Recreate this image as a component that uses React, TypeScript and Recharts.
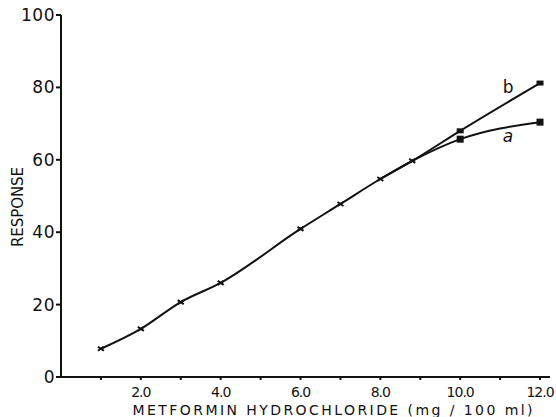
import { CartesianGrid, Line, LineChart, ReferenceDot, XAxis, YAxis } from 'recharts'

const doses = [1, 2, 3, 4, 6, 7, 8, 8.8, 10, 12]
const responseA = [7.8, 13.3, 20.7, 26.0, 40.9, 47.8, 54.7, 59.7, 65.7, 70.4]
const responseB = [null, null, null, null, null, null, 54.7, 59.7, 68.0, 81.2]
const xTicks = [1, 2, 3, 4, 5, 6, 7, 8, 9, 10, 11, 12]
const yTicks = [0, 20, 40, 60, 80, 100]

const data = doses.map((x, i) => ({ x, a: responseA[i], b: responseB[i] }))

const INK = '#111'
const FONT = '"DejaVu Sans", sans-serif'

function DotA(props: any) {
  const { cx, cy, payload } = props
  if (cx == null || cy == null) return null
  if (payload.x >= 10) {
    return <rect x={cx - 3.5} y={cy - 3.5} width={7} height={7} fill={INK} />
  }
  return (
    <g stroke={INK} strokeWidth={2}>
      <line x1={cx - 3} y1={cy - 2} x2={cx + 3} y2={cy + 2} />
      <line x1={cx - 3} y1={cy + 2} x2={cx + 3} y2={cy - 2} />
    </g>
  )
}

function DotB(props: any) {
  const { cx, cy, payload } = props
  if (cx == null || cy == null || payload.x < 10) return null
  return <rect x={cx - 3.5} y={cy - 2.5} width={7} height={5} fill={INK} />
}

export default function App() {
  return (
    <div style={{ position: 'absolute', left: 0, top: 0, background: '#fff' }}>
      <LineChart width={556} height={417} data={data} margin={{ top: 15, right: 6, bottom: 0, left: 0 }}>
        <CartesianGrid stroke="none" />
        <XAxis
          dataKey="x"
          type="number"
          domain={[0, 12.25]}
          ticks={xTicks}
          tickFormatter={(v: number) => (v % 2 === 0 ? v.toFixed(1) : '')}
          stroke={INK}
          strokeWidth={2}
          tickSize={3}
          tickMargin={7}
          height={40}
          tick={{ fill: INK, fontSize: 14, fontFamily: FONT, letterSpacing: -1 }}
          label={{
            content: (p: any) => (
              <text
                x={p.viewBox.x + p.viewBox.width / 2 + 27}
                y={415}
                textAnchor="middle"
                textLength={400}
                lengthAdjust="spacing"
                fontSize={14}
                fontFamily={FONT}
                fill={INK}
              >
                METFORMIN HYDROCHLORIDE (mg / 100 ml)
              </text>
            ),
          }}
        />
        <YAxis
          type="number"
          domain={[0, 100]}
          ticks={yTicks}
          stroke={INK}
          strokeWidth={2}
          tickSize={5}
          tickMargin={1}
          width={61}
          tick={{ fill: INK, fontSize: 17, fontFamily: FONT, letterSpacing: 0.5 }}
          label={{
            content: () => (
              <text
                x={18}
                y={207}
                transform="rotate(-90 18 207)"
                textAnchor="middle"
                dominantBaseline="central"
                textLength={80}
                lengthAdjust="spacing"
                fontSize={15}
                fontFamily={FONT}
                fill={INK}
              >
                RESPONSE
              </text>
            ),
          }}
        />
        <Line
          type="monotone"
          dataKey="a"
          stroke={INK}
          strokeWidth={2}
          dot={<DotA />}
          activeDot={false}
          isAnimationActive={false}
        />
        <Line
          type="monotone"
          dataKey="b"
          stroke={INK}
          strokeWidth={2}
          dot={<DotB />}
          activeDot={false}
          isAnimationActive={false}
        />
        <ReferenceDot
          x={11.2}
          y={80}
          r={0}
          fill="none"
          stroke="none"
          label={{ value: 'b', fill: INK, fontSize: 17, fontFamily: FONT }}
        />
        <ReferenceDot
          x={11.2}
          y={66.5}
          r={0}
          fill="none"
          stroke="none"
          label={{ value: 'a', fill: INK, fontSize: 17, fontFamily: FONT, fontStyle: 'italic' }}
        />
      </LineChart>
    </div>
  )
}
